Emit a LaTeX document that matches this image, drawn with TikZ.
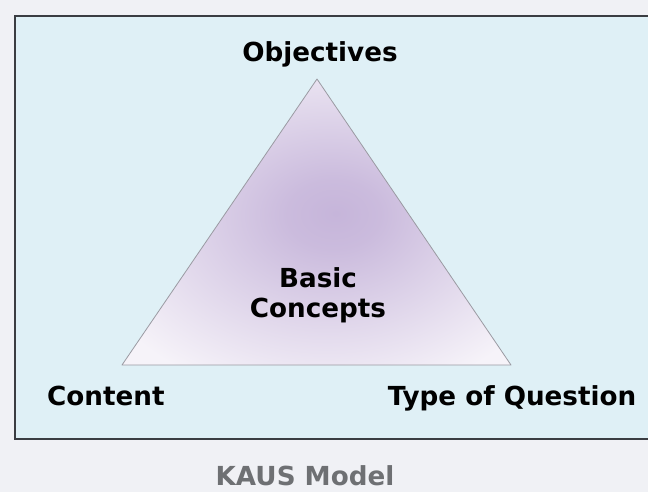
\documentclass[tikz,border=0pt]{standalone}
\usepackage{fontspec}
\setmainfont{DejaVu Sans}
\usepackage{tikz}
\usetikzlibrary{positioning}

\definecolor{pagegrey}{HTML}{F0F1F5}
\definecolor{panelblue}{HTML}{DFF0F6}
\definecolor{framegrey}{HTML}{3A3D42}
\definecolor{edgegrey}{HTML}{9A9AA2}
\definecolor{lilac}{HTML}{C6B5DA}
\definecolor{lilacpale}{HTML}{F6F3F9}
\definecolor{captiongrey}{HTML}{6E7073}

% soft lilac glow, slightly up and right of the middle
\pgfdeclareradialshading{lilacglow}{\pgfpoint{2.5bp}{1.5bp}}{%
  color(0bp)=(lilac);
  color(6bp)=(lilac!90!lilacpale);
  color(16bp)=(lilac!55!lilacpale);
  color(32bp)=(lilacpale);
  color(50bp)=(lilacpale)}

\tikzset{
  corner/.style={font=\fontsize{26.2}{30}\selectfont\bfseries, text=black, inner sep=0pt, anchor=base},
  caption/.style={corner, text=captiongrey},
}

\begin{document}
\begin{tikzpicture}[x=1pt,y=-1pt]
  \useasboundingbox[fill=pagegrey] (0,0) rectangle (648,492);
  % panel, open on the right
  \fill[panelblue] (15,16) rectangle (648,439);
  \draw[framegrey, line width=1.3pt] (648,16) -- (15,16) -- (15,439) -- (648,439);

  % triangle
  \coordinate (top) at (317,79);
  \coordinate (left) at (122,365);
  \coordinate (right) at (511,365);
  \shade[shading=lilacglow, draw=edgegrey, line width=0.8pt, line join=round]
    (top) -- (right) -- (left) -- cycle;

  \node[corner] (objectives) at (320,62) {Objectives};
  \node[corner, anchor=base west] (content) at (47,405) {Content};
  \node[corner] (question) at (512,405) {Type of Question};
  \node[corner, align=center] (basic) at (318,317) {Basic\\[-0.5pt]Concepts};
  \node[caption] (kaus) at (305,485) {KAUS Model};
\end{tikzpicture}
\end{document}
